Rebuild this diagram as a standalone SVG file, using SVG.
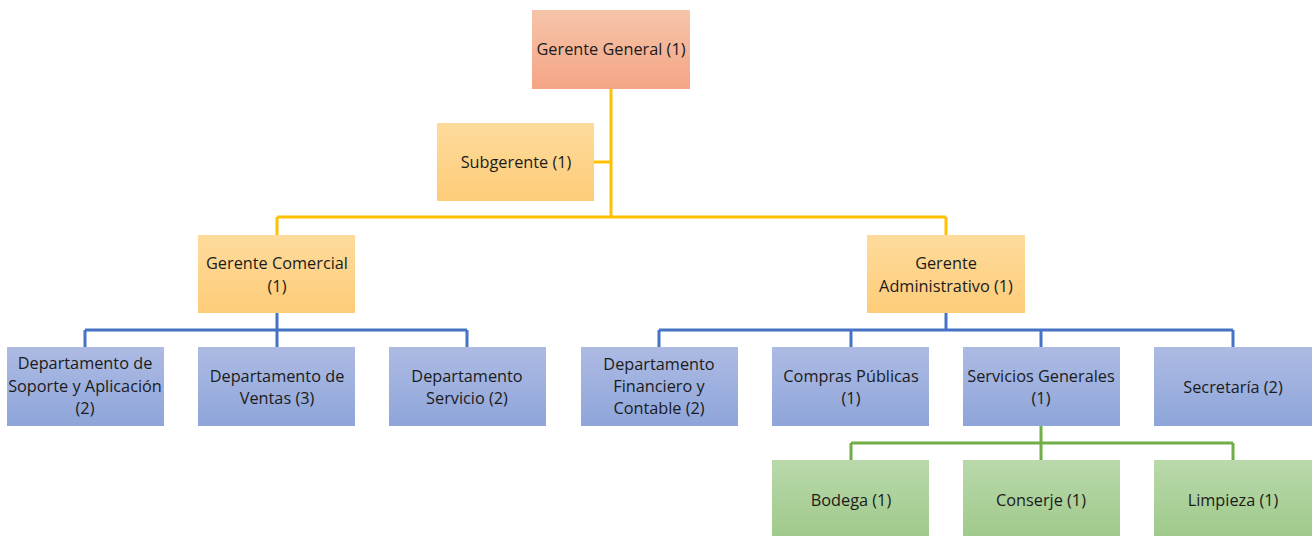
<svg xmlns="http://www.w3.org/2000/svg" width="1316" height="536" viewBox="0 0 1316 536">
<defs>
<linearGradient id="gOr" x1="0" y1="0" x2="0" y2="1"><stop offset="0" stop-color="#f6c4aa"/><stop offset="1" stop-color="#f4a585"/></linearGradient>
<linearGradient id="gYe" x1="0" y1="0" x2="0" y2="1"><stop offset="0" stop-color="#fedb9c"/><stop offset="1" stop-color="#fdcc78"/></linearGradient>
<linearGradient id="gBl" x1="0" y1="0" x2="0" y2="1"><stop offset="0" stop-color="#adbbe3"/><stop offset="1" stop-color="#8ea5da"/></linearGradient>
<linearGradient id="gGr" x1="0" y1="0" x2="0" y2="1"><stop offset="0" stop-color="#b9d9ab"/><stop offset="1" stop-color="#9fc98a"/></linearGradient>
</defs>
<style>
text{font-family:"Open Sans","Liberation Sans",sans-serif;font-size:16.3px;fill:#1b1b1b;text-anchor:middle;dominant-baseline:central}
.or{fill:url(#gOr)}.ye{fill:url(#gYe)}.bl{fill:url(#gBl)}.gr{fill:url(#gGr)}
.ly{stroke:#ffc000;stroke-width:3;fill:none}
.lb{stroke:#4472c4;stroke-width:3;fill:none}
.lg{stroke:#70ad47;stroke-width:3;fill:none}
</style>
<rect width="1316" height="536" fill="#ffffff"/>
<g id="connectors">
<path class="ly" d="M611 89V217M594 162H611M277 217H946M277 217V235M946 217V235"/>
<path class="lb" d="M277 313V330M85 330H467M85 330V347M277 330V347M467 330V347"/>
<path class="lb" d="M946 313V330M659 330H1233M659 330V347M851 330V347M1041 330V347M1233 330V347"/>
<path class="lg" d="M1041 426V443M851 443H1233M851 443V460M1041 443V460M1233 443V460"/>
</g>
<g id="gerente-general"><rect class="or" x="532" y="10" width="158" height="79"/><text x="611" y="49">Gerente General (1)</text></g>
<g id="subgerente"><rect class="ye" x="437" y="123" width="157" height="78"/><text x="516" y="162">Subgerente (1)</text></g>
<g id="gerente-comercial"><rect class="ye" x="198" y="235" width="157" height="78"/><text x="277" y="263">Gerente Comercial</text><text x="277" y="286">(1)</text></g>
<g id="gerente-administrativo"><rect class="ye" x="867" y="235" width="158" height="78"/><text x="946" y="263">Gerente</text><text x="946" y="286">Administrativo (1)</text></g>
<g id="dep-soporte"><rect class="bl" x="7" y="347" width="157" height="79"/><text x="85" y="363">Departamento de</text><text x="85" y="386">Soporte y Aplicación</text><text x="85" y="408">(2)</text></g>
<g id="dep-ventas"><rect class="bl" x="198" y="347" width="157" height="79"/><text x="277" y="376">Departamento de</text><text x="277" y="398">Ventas (3)</text></g>
<g id="dep-servicio"><rect class="bl" x="389" y="347" width="157" height="79"/><text x="467" y="376">Departamento</text><text x="467" y="398">Servicio (2)</text></g>
<g id="dep-financiero"><rect class="bl" x="581" y="347" width="157" height="79"/><text x="659" y="364">Departamento</text><text x="659" y="386">Financiero y</text><text x="659" y="408">Contable (2)</text></g>
<g id="compras"><rect class="bl" x="772" y="347" width="157" height="79"/><text x="851" y="376">Compras Públicas</text><text x="851" y="398">(1)</text></g>
<g id="servicios-generales"><rect class="bl" x="963" y="347" width="157" height="79"/><text x="1041" y="376">Servicios Generales</text><text x="1041" y="398">(1)</text></g>
<g id="secretaria"><rect class="bl" x="1154" y="347" width="158" height="79"/><text x="1233" y="387">Secretaría (2)</text></g>
<g id="bodega"><rect class="gr" x="772" y="460" width="157" height="78"/><text x="851" y="500">Bodega (1)</text></g>
<g id="conserje"><rect class="gr" x="963" y="460" width="157" height="78"/><text x="1041" y="500">Conserje (1)</text></g>
<g id="limpieza"><rect class="gr" x="1154" y="460" width="158" height="78"/><text x="1233" y="500">Limpieza (1)</text></g>
</svg>
